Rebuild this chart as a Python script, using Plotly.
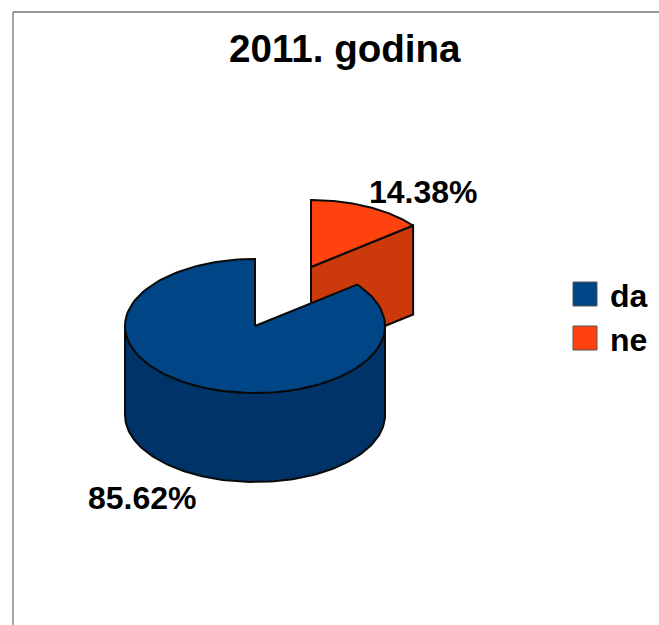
import numpy as np
import plotly.graph_objects as go

title = "2011. godina"
categories = ["da", "ne"]
values = [85.62, 14.38]
labels = ["85.62%", "14.38%"]
top_colors = ["#004586", "#ff420e"]
wall_colors = ["#003468", "#cc3a0b"]

# pie projection, in page pixels
CX, CY, RX, RY, DEPTH = 255, 326, 130, 67, 89
EXPLODE = (56, -59)
FONT = "Liberation Sans"


def rim(a0, a1, n=120):
    t = np.radians(np.linspace(a0, a1, n))
    return RX * np.sin(t), -RY * np.cos(t)


def add_poly(fig, x, y, color):
    fig.add_trace(go.Scatter(
        x=x, y=y, mode="lines", fill="toself", fillcolor=color,
        line=dict(color="#0a0a0a", width=2), hoverinfo="skip", showlegend=False))


fig = go.Figure()
total = sum(values)
sweep = 360 * values[1] / total   # "ne" runs clockwise from 12 o'clock

# "ne": cut face, then top
ox, oy = CX + EXPLODE[0], CY + EXPLODE[1]
ex, ey = rim(sweep, sweep, 1)
add_poly(fig,
         [ox, ox + ex[0], ox + ex[0], ox, ox],
         [oy, oy + ey[0], oy + ey[0] + DEPTH, oy + DEPTH, oy],
         wall_colors[1])
rx_, ry_ = rim(0, sweep)
add_poly(fig,
         np.r_[ox, ox + rx_, ox],
         np.r_[oy, oy + ry_, oy],
         top_colors[1])

# "da": outer wall, then top
wx, wy = rim(90, 270)
add_poly(fig,
         np.r_[CX + wx, CX + wx[::-1], CX + wx[0]],
         np.r_[CY + wy, CY + wy[::-1] + DEPTH, CY + wy[0]],
         wall_colors[0])
tx, ty = rim(sweep, 360)
add_poly(fig,
         np.r_[CX, CX + tx, CX],
         np.r_[CY, CY + ty, CY],
         top_colors[0])

# legend
for cat, col, y in zip(categories, top_colors, [294, 338]):
    fig.add_trace(go.Scatter(
        x=[585], y=[y], mode="markers",
        marker=dict(symbol="square", size=24, color=col, line=dict(color="#555555", width=1)),
        hoverinfo="skip", showlegend=False))
    fig.add_annotation(x=608, y=y + 2, text=f"<b>{cat}</b>", showarrow=False, xanchor="left",
                       font=dict(family=FONT, size=32, color="#000"))

# value labels
for txt, (lx, ly) in zip(labels, [(142, 498), (423, 192)]):
    fig.add_annotation(x=lx, y=ly, text=f"<b>{txt}</b>", showarrow=False,
                       font=dict(family=FONT, size=32, color="#000"))

fig.add_annotation(x=345, y=48, text=f"<b>{title}</b>", showarrow=False,
                   font=dict(family=FONT, size=38.6, color="#000"))

# frame
frame = dict(type="line", line=dict(color="#777777", width=1.3))
fig.add_shape(x0=13, x1=659, y0=12, y1=12, **frame)
fig.add_shape(x0=13, x1=13, y0=12, y1=625, **frame)

fig.update_layout(
    width=659, height=625, margin=dict(l=0, r=0, t=0, b=0),
    paper_bgcolor="white", plot_bgcolor="white", showlegend=False,
    xaxis=dict(range=[0, 659], visible=False, fixedrange=True),
    yaxis=dict(range=[625, 0], visible=False, fixedrange=True),
)
fig.write_html("out.html", config=dict(displayModeBar=False),
               post_script="document.body.style.margin='0';document.body.style.overflow='hidden';")
